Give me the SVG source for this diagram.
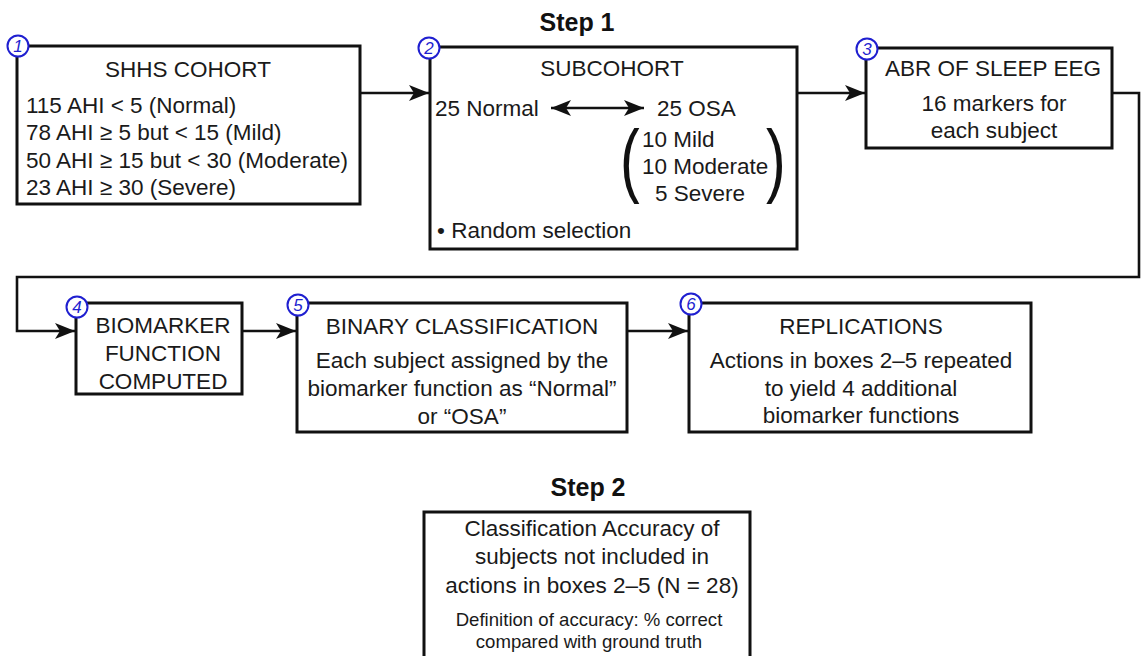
<svg xmlns="http://www.w3.org/2000/svg" width="1143" height="656" viewBox="0 0 1143 656">
<defs>
<style>
.box{fill:#fff;stroke:#111;stroke-width:3}
.conn{fill:none;stroke:#111;stroke-width:2.6}
.t{font-family:"Liberation Sans",Arial,sans-serif;font-size:22.5px;fill:#1a1a1a}
.c{text-anchor:middle}
.step{font-family:"Liberation Sans",Arial,sans-serif;font-size:25px;font-weight:bold;fill:#111;text-anchor:middle}
.small{font-family:"Liberation Sans",Arial,sans-serif;font-size:18.6px;fill:#1a1a1a;text-anchor:middle}
.badge circle{fill:#fff;stroke:#1f1fd0;stroke-width:2}
.badge text{font-family:"Liberation Sans",Arial,sans-serif;font-size:17px;font-style:italic;fill:#1f1fd0;text-anchor:middle}
.paren{font-family:"Liberation Sans",Arial,sans-serif;font-size:82px;fill:#111}
</style>
<marker id="ah" viewBox="0 0 20 16" refX="20" refY="8" markerWidth="20" markerHeight="16" markerUnits="userSpaceOnUse" orient="auto-start-reverse">
<path d="M0,0 L20,8 L0,16 L5,8 Z" fill="#111"/>
</marker>
</defs>
<rect width="1143" height="656" fill="#fff"/>

<text class="step" x="577" y="31">Step 1</text>
<text class="step" x="588" y="496">Step 2</text>

<g id="connectors">
<path class="conn" d="M360,93 L429,93" marker-end="url(#ah)"/>
<path class="conn" d="M797,93 L865,93" marker-end="url(#ah)"/>
<path class="conn" d="M1112,93 L1139,93 L1139,277 L17,277 L17,331 L75,331" marker-end="url(#ah)"/>
<path class="conn" d="M242,331 L296,331" marker-end="url(#ah)"/>
<path class="conn" d="M627,331 L688,331" marker-end="url(#ah)"/>
</g>

<g id="node1">
<rect class="box" x="17" y="46" width="343" height="158"/>
<text class="t c" x="188" y="77">SHHS COHORT</text>
<text class="t" x="26" y="112.5">115 AHI &lt; 5 (Normal)</text>
<text class="t" x="26" y="140">78 AHI ≥ 5 but &lt; 15 (Mild)</text>
<text class="t" x="26" y="167.5">50 AHI ≥ 15 but &lt; 30 (Moderate)</text>
<text class="t" x="26" y="195">23 AHI ≥ 30 (Severe)</text>
<g class="badge"><circle cx="18" cy="46" r="10.5"/><text x="18" y="52">1</text></g>
</g>

<g id="node2">
<rect class="box" x="430" y="47" width="367" height="202"/>
<text class="t c" x="612" y="76">SUBCOHORT</text>
<text class="t" x="435" y="116">25 Normal</text>
<path class="conn" d="M551,108 L644,108" marker-start="url(#ah)" marker-end="url(#ah)"/>
<text class="t" x="657" y="116">25 OSA</text>
<text class="paren" transform="translate(620,187) scale(0.72,1)">(</text>
<text class="paren" transform="translate(766,187) scale(0.72,1)">)</text>
<text class="t" x="642" y="147">10 Mild</text>
<text class="t" x="642" y="174">10 Moderate</text>
<text class="t" x="655" y="201">5 Severe</text>
<text class="t" x="437" y="238">• Random selection</text>
<g class="badge"><circle cx="429" cy="48" r="10.5"/><text x="429" y="54">2</text></g>
</g>

<g id="node3">
<rect class="box" x="866" y="48" width="246" height="100"/>
<text class="t c" x="993" y="76">ABR OF SLEEP EEG</text>
<text class="t c" x="994" y="111">16 markers for</text>
<text class="t c" x="994" y="138">each subject</text>
<g class="badge"><circle cx="867" cy="49" r="10.5"/><text x="867" y="55">3</text></g>
</g>

<g id="node4">
<rect class="box" x="76" y="303" width="166" height="91"/>
<text class="t c" x="163" y="333">BIOMARKER</text>
<text class="t c" x="163" y="361">FUNCTION</text>
<text class="t c" x="163" y="389">COMPUTED</text>
<g class="badge"><circle cx="77" cy="307" r="10.5"/><text x="77" y="313">4</text></g>
</g>

<g id="node5">
<rect class="box" x="297" y="303" width="330" height="129"/>
<text class="t c" x="462" y="334">BINARY CLASSIFICATION</text>
<text class="t c" x="462" y="368">Each subject assigned by the</text>
<text class="t c" x="462" y="396">biomarker function as “Normal”</text>
<text class="t c" x="462" y="424">or “OSA”</text>
<g class="badge"><circle cx="298" cy="305" r="10.5"/><text x="298" y="311">5</text></g>
</g>

<g id="node6">
<rect class="box" x="689" y="303" width="342" height="129"/>
<text class="t c" x="861" y="334">REPLICATIONS</text>
<text class="t c" x="861" y="368">Actions in boxes 2–5 repeated</text>
<text class="t c" x="861" y="396">to yield 4 additional</text>
<text class="t c" x="861" y="423">biomarker functions</text>
<g class="badge"><circle cx="691" cy="304" r="10.5"/><text x="691" y="310">6</text></g>
</g>

<g id="node7">
<rect class="box" x="424" y="512" width="326" height="160"/>
<text class="t c" x="592" y="536">Classification Accuracy of</text>
<text class="t c" x="592" y="564">subjects not included in</text>
<text class="t c" x="592" y="593">actions in boxes 2–5 (N = 28)</text>
<text class="small" x="589" y="626">Definition of accuracy: % correct</text>
<text class="small" x="589" y="648">compared with ground truth</text>
</g>
</svg>
